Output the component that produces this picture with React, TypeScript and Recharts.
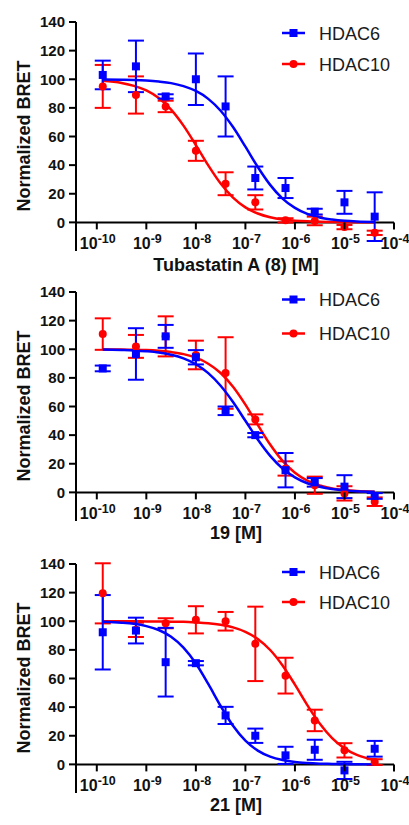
import React from "react"
import { ComposedChart, Line, Scatter, ErrorBar, XAxis, YAxis, ReferenceLine } from "recharts"

const FONT = "'Liberation Sans', Arial, sans-serif"
const BLUE = "#0000ff"
const RED = "#ff0000"

// log10 of concentration [M]
const LOG_CONC = [-9.88, -9.21, -8.61, -8.0, -7.4, -6.8, -6.19, -5.6, -5.0, -4.39]
const CURVE_X = [
  -9.88, -9.5, -9.25, -9.0, -8.75, -8.5, -8.25, -8.0, -7.75, -7.5, -7.25,
  -7.0, -6.75, -6.5, -6.25, -6.0, -5.75, -5.5, -5.25, -5.0, -4.75, -4.39,
]
const X_TICKS = [-10, -9, -8, -7, -6, -5, -4]
const Y_TICKS = [0, 20, 40, 60, 80, 100, 120, 140]

// Tubastatin A (8)
const TUBA_HDAC6 = [103, 109, 88, 100, 81, 31, 24, 7.5, 14, 4]
const TUBA_HDAC6_ERR = [10, 18, 1.5, 18, 21, 8, 7, 2, 8, 17]
const TUBA_HDAC10 = [95, 89, 81, 50, 27, 14, 1.4, 1, -3.3, -7.3]
const TUBA_HDAC10_ERR = [15, 13, 4, 7, 8, 5, 1.5, 3, 1.5, 1.5]
const TUBA_HDAC6_FIT = [
  99.9, 99.7, 99.5, 99.1, 98.4, 97.3, 95.2, 91.8, 86.3, 78.0, 66.6,
  52.9, 38.7, 26.2, 16.6, 10.1, 5.9, 3.4, 2.0, 1.1, 0.6, 0.3,
]
const TUBA_HDAC10_FIT = [
  98.9, 97.4, 95.4, 92.2, 86.9, 78.8, 67.6, 54.0, 39.8, 27.1, 17.3,
  10.5, 6.2, 3.6, 2.0, 1.2, 0.7, 0.4, 0.2, 0.1, 0.1, 0.0,
]

// compound 19
const C19_HDAC6 = [86.6, 96.7, 109, 94.4, 57, 40, 15.5, 7, 4, -2.5]
const C19_HDAC6_ERR = [2, 18, 8, 5, 3, 1.5, 12, 3, 8, 2]
const C19_HDAC10 = [110.6, 102, 109, 96, 83.4, 51, 16.7, 5, -0.7, -6.5]
const C19_HDAC10_ERR = [11, 8, 14, 10, 25, 3.5, 5, 6, 5, 3]
const C19_HDAC6_FIT = [
  99.8, 99.5, 99.2, 98.6, 97.7, 96.1, 93.6, 89.5, 83.3, 74.5, 63.1,
  50.0, 36.9, 25.5, 16.7, 10.5, 6.4, 3.9, 2.3, 1.4, 0.8, 0.4,
]
const C19_HDAC10_FIT = [
  99.9, 99.8, 99.6, 99.4, 98.9, 98.0, 96.6, 94.1, 89.9, 83.4, 73.8,
  61.3, 47.1, 33.4, 22.0, 13.7, 8.2, 4.8, 2.7, 1.6, 0.9, 0.4,
]

// compound 21
const C21_HDAC6 = [92.3, 93.5, 71.4, 70.7, 34.2, 20, 6.3, 10.2, -4.2, 10.9]
const C21_HDAC6_ERR = [26, 9, 24, 1.5, 6, 5, 6, 7, 6, 5.5]
const C21_HDAC10 = [119.5, 94, 98.6, 101, 100, 84.2, 62, 30.7, 9.8, 1.6]
const C21_HDAC10_ERR = [21, 5, 3.5, 9.5, 6.5, 26, 12.5, 7.5, 5, 2]
const C21_HDAC6_FIT = [
  99.6, 99.0, 98.2, 96.6, 93.9, 89.2, 81.6, 70.5, 56.2, 40.8, 27.0,
  16.6, 9.6, 5.4, 3.0, 1.6, 0.9, 0.5, 0.3, 0.1, 0.1, 0.0,
]
const C21_HDAC10_FIT = [
  100.0, 100.0, 100.0, 99.9, 99.9, 99.7, 99.6, 99.2, 98.6, 97.5, 95.7,
  92.6, 87.6, 79.9, 69.1, 55.7, 41.4, 28.5, 18.3, 11.2, 6.6, 3.0,
]

const W = 409
const H = 271
const TOP = 22
const XAXIS_H = 20
const PLOT_H = H - TOP - XAXIS_H
const ZERO_Y = TOP + (PLOT_H * 140) / 160

const points = (ys: number[], errs: number[]) =>
  LOG_CONC.map((x, i) => ({ x, y: ys[i], e: errs[i] }))
const curve = (ys: number[]) => CURVE_X.map((x, i) => ({ x, y: ys[i] }))

const XTick = (props: any) => {
  const { x, payload } = props
  return (
    <g>
      <line x1={x} x2={x} y1={ZERO_Y} y2={ZERO_Y + 7} stroke="#000" strokeWidth={2} />
      <text x={x + 1} y={249} textAnchor="middle" fontFamily={FONT} fontWeight="bold" fill="#111">
        <tspan fontSize={16}>10</tspan>
        <tspan fontSize={12.5} dy={-6.5}>{payload.value}</tspan>
      </text>
    </g>
  )
}

const square = (p: any) => (
  <rect x={p.cx - 4} y={p.cy - 4} width={8} height={8} fill={BLUE} />
)
const circle = (p: any) => <circle cx={p.cx} cy={p.cy} r={4} fill={RED} />

type PanelProps = {
  top: number
  title: string
  titleY: number
  legendY: [number, number]
  hdac6: number[]
  hdac6Err: number[]
  hdac10: number[]
  hdac10Err: number[]
  fit6: number[]
  fit10: number[]
}

function Panel(p: PanelProps) {
  return (
    <div style={{ position: "absolute", left: 0, top: p.top, width: W, height: H }}>
      <ComposedChart width={W} height={H} margin={{ top: TOP, right: 15, bottom: 0, left: 0 }}>
        <XAxis
          type="number"
          dataKey="x"
          domain={[-10.42, -4]}
          allowDataOverflow
          ticks={X_TICKS}
          axisLine={false}
          tickLine={false}
          tick={<XTick />}
          height={XAXIS_H}
          interval={0}
        />
        <YAxis
          type="number"
          dataKey="y"
          domain={[-20, 140]}
          allowDataOverflow
          ticks={Y_TICKS}
          width={76}
          interval={0}
          axisLine={{ stroke: "#000", strokeWidth: 2 }}
          tickLine={{ stroke: "#000", strokeWidth: 2 }}
          tickSize={7}
          tickMargin={4}
          tick={{ fontSize: 15, fontWeight: "bold", fill: "#111", fontFamily: FONT }}
        />
        <ReferenceLine y={0} stroke="#000" strokeWidth={2} />
        <Line
          data={curve(p.fit10)}
          dataKey="y"
          type="monotone"
          stroke={RED}
          strokeWidth={2.5}
          dot={false}
          activeDot={false}
          isAnimationActive={false}
        />
        <Scatter data={points(p.hdac10, p.hdac10Err)} shape={circle} isAnimationActive={false}>
          <ErrorBar dataKey="e" direction="y" width={8} stroke={RED} strokeWidth={2} />
        </Scatter>
        <Line
          data={curve(p.fit6)}
          dataKey="y"
          type="monotone"
          stroke={BLUE}
          strokeWidth={2.5}
          dot={false}
          activeDot={false}
          isAnimationActive={false}
        />
        <Scatter data={points(p.hdac6, p.hdac6Err)} shape={square} isAnimationActive={false}>
          <ErrorBar dataKey="e" direction="y" width={8} stroke={BLUE} strokeWidth={2} />
        </Scatter>
      </ComposedChart>
      <svg
        width={W}
        height={H}
        style={{ position: "absolute", left: 0, top: 0, pointerEvents: "none", overflow: "visible" }}
      >
        <text
          transform="translate(29.5,136) rotate(-90)"
          textAnchor="middle"
          fontFamily={FONT}
          fontWeight="bold"
          fontSize={18}
          fill="#111"
        >
          Normalized BRET
        </text>
        <text x={236} y={p.titleY} textAnchor="middle" fontFamily={FONT} fontWeight="bold" fontSize={18} fill="#111">
          {p.title}
        </text>
        {/* Legend */}
        <line x1={282} x2={305} y1={p.legendY[0]} y2={p.legendY[0]} stroke={BLUE} strokeWidth={2.5} />
        <rect x={289.5} y={p.legendY[0] - 4} width={8} height={8} fill={BLUE} />
        <text x={319} y={p.legendY[0] + 6.5} fontFamily={FONT} fontSize={18} fill="#1a1a1a">
          HDAC6
        </text>
        <line x1={282} x2={305} y1={p.legendY[1]} y2={p.legendY[1]} stroke={RED} strokeWidth={2.5} />
        <circle cx={293.5} cy={p.legendY[1]} r={4} fill={RED} />
        <text x={319} y={p.legendY[1] + 6.5} fontFamily={FONT} fontSize={18} fill="#1a1a1a">
          HDAC10
        </text>
      </svg>
    </div>
  )
}

export default function App() {
  return (
    <div style={{ position: "absolute", left: 0, top: 0, width: W, height: 825, background: "#fff" }}>
      <Panel
        top={0}
        title="Tubastatin A (8) [M]"
        titleY={271}
        legendY={[33, 64]}
        hdac6={TUBA_HDAC6}
        hdac6Err={TUBA_HDAC6_ERR}
        hdac10={TUBA_HDAC10}
        hdac10Err={TUBA_HDAC10_ERR}
        fit6={TUBA_HDAC6_FIT}
        fit10={TUBA_HDAC10_FIT}
      />
      <Panel
        top={270}
        title="19 [M]"
        titleY={269}
        legendY={[29.5, 63.5]}
        hdac6={C19_HDAC6}
        hdac6Err={C19_HDAC6_ERR}
        hdac10={C19_HDAC10}
        hdac10Err={C19_HDAC10_ERR}
        fit6={C19_HDAC6_FIT}
        fit10={C19_HDAC10_FIT}
      />
      <Panel
        top={542}
        title="21 [M]"
        titleY={269}
        legendY={[30, 60]}
        hdac6={C21_HDAC6}
        hdac6Err={C21_HDAC6_ERR}
        hdac10={C21_HDAC10}
        hdac10Err={C21_HDAC10_ERR}
        fit6={C21_HDAC6_FIT}
        fit10={C21_HDAC10_FIT}
      />
    </div>
  )
}
